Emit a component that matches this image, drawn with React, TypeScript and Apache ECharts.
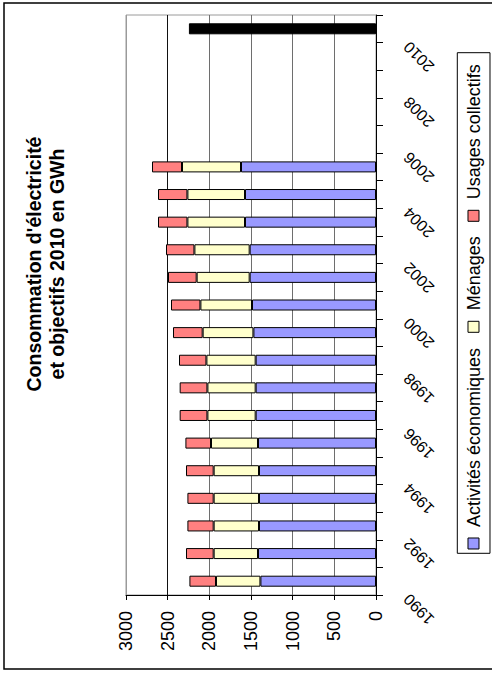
import React, { useEffect, useRef } from "react";
import * as echarts from "echarts";

const years = ["1990","1991","1992","1993","1994","1995","1996","1997","1998","1999","2000","2001","2002","2003","2004","2005","2006","2007","2008","2009","2010"];
const seriesNames = ["Activités économiques", "Ménages", "Usages collectifs"];
const seriesColors = ["#9999FF", "#FFFFCC", "#FF8080"];
const activites = [1387,1416,1404,1404,1404,1416,1444,1444,1444,1471,1488,1516,1516,1572,1572,1620,null,null,null,null,null];
const menages = [533,532,544,544,544,564,579,579,591,609,619,636,663,691,691,708,null,null,null,null,null];
const usages = [319,332,315,315,332,307,333,333,329,356,353,344,341,353,353,360,null,null,null,null,null];
const objectif2010 = [null,null,null,null,null,null,null,null,null,null,null,null,null,null,null,null,null,null,null,null,2245];
const valueTicks = { min: 0, max: 3000, interval: 500 };
const yearLabels = years.filter((_, i) => i % 2 === 0);
const titleLines = ["Consommation d'électricité", "et objectifs 2010 en GWh"];

const FONT = "'Liberation Sans', Arial, sans-serif";

export default function App() {
  const ref = useRef<HTMLDivElement>(null);
  useEffect(() => {
    if (!ref.current) return;
    const chart = echarts.init(ref.current, null, { renderer: "svg" });
    const bar = (name: string, data: (number | null)[], color: string) => ({
      name,
      type: "bar",
      stack: "total",
      data,
      barWidth: 11,
      itemStyle: { color, borderColor: "#000", borderWidth: 1 },
      emphasis: { disabled: true },
    });
    chart.setOption({
      animation: false,
      backgroundColor: "#fff",
      grid: { left: 126, right: 116, top: 15, bottom: 78, show: true, borderColor: "#9a9a9a", borderWidth: 1, backgroundColor: "transparent" },
      xAxis: {
        type: "value",
        inverse: true,
        min: valueTicks.min,
        max: valueTicks.max,
        interval: valueTicks.interval,
        position: "bottom",
        axisLine: { show: true, lineStyle: { color: "#000", width: 1 } },
        axisTick: { show: true, length: 5, lineStyle: { color: "#000" } },
        axisLabel: { rotate: 90, fontSize: 18, color: "#000", fontFamily: FONT, margin: 16, formatter: (v: number) => String(v) },
        splitLine: { show: true, lineStyle: { color: ["#000", "#6e6e6e", "#6e6e6e", "#6e6e6e", "#6e6e6e", "#111", "#9a9a9a"], width: 1 } },
      },
      yAxis: {
        type: "category",
        data: years,
        position: "right",
        axisLine: { show: true, lineStyle: { color: "#000", width: 1 } },
        axisTick: { show: true, length: 7, interval: 0, lineStyle: { color: "#000" } },
        axisLabel: { show: false },
        splitLine: { show: false },
      },
      series: [
        bar(seriesNames[0], activites, seriesColors[0]),
        bar(seriesNames[1], menages, seriesColors[1]),
        bar(seriesNames[2], usages, seriesColors[2]),
        bar("Objectif 2010", objectif2010, "#000"),
      ],
    });

    // year labels, positioned through the category axis
    const yearTexts = yearLabels.map((yr) => {
      const p = chart.convertToPixel({ gridIndex: 0 }, [0, yr]) as number[];
      return {
        type: "text",
        x: p[0] + 30.3,
        y: p[1] + 15.5,
        rotation: (3 * Math.PI) / 4,
        style: { text: yr, fill: "#000", font: `16px ${FONT}`, textAlign: "right", textVerticalAlign: "middle" },
      };
    });

    const legendOffsets = [4.3, 221, 332];
    const legendChildren: any[] = [
      { type: "rect", shape: { x: 0, y: 0, width: 500.6, height: 32.7 }, style: { fill: "#fff", stroke: "#000", lineWidth: 1 } },
    ];
    seriesNames.forEach((name, i) => {
      const ox = legendOffsets[i];
      legendChildren.push({ type: "rect", shape: { x: ox, y: 10.7, width: 11, height: 11 }, style: { fill: seriesColors[i], stroke: "#000", lineWidth: 1 } });
      legendChildren.push({ type: "text", x: ox + 22, y: 16.2, style: { text: name, fill: "#000", font: `18px ${FONT}`, textAlign: "left", textVerticalAlign: "middle" } });
    });

    chart.setOption({
      graphic: [
        { type: "rect", z: -10, shape: { x: 4, y: 3, width: 500, height: 666 }, style: { fill: "none", stroke: "#000", lineWidth: 1.5 } },
        {
          type: "group", x: 45.5, y: 264, rotation: Math.PI / 2,
          children: [
            { type: "text", x: 0, y: 0, style: { text: titleLines.join("\n"), fill: "#000", font: `bold 19.5px ${FONT}`, lineHeight: 23, textAlign: "center", textVerticalAlign: "middle" } },
          ],
        },
        { type: "group", x: 457.3, y: 553.3, rotation: Math.PI / 2, children: legendChildren },
        ...yearTexts,
      ],
    });
    return () => chart.dispose();
  }, []);
  return <div ref={ref} style={{ position: "fixed", left: 0, top: 0, width: 492, height: 673 }} />;
}
